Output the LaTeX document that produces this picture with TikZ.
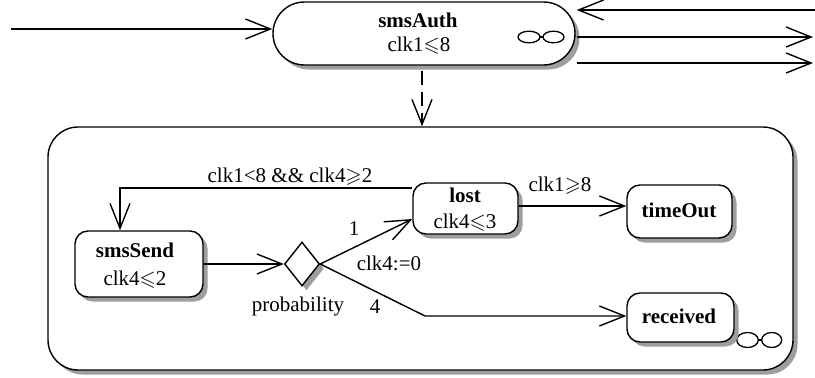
\documentclass[tikz,border=0pt]{standalone}
\usepackage{fontspec}
\setmainfont{Liberation Serif}
\usepackage{amssymb}
\usetikzlibrary{arrows.meta,shapes.geometric,calc,shadows}
\begin{document}
\begin{tikzpicture}[x=1pt,y=-1pt,line width=1.4pt,
  txt/.style={font=\fontsize{21}{24}\selectfont, inner sep=0pt, anchor=base},
  btxt/.style={txt, font=\fontsize{21}{24}\selectfont\bfseries},
  arr/.style={-{Straight Barb[length=25pt,width=20pt,line width=1.4pt]}},
  shad/.style={drop shadow={shadow xshift=4.5pt,shadow yshift=-4.5pt,fill=black!38,opacity=1}},
  statebox/.style={draw, fill=white, rounded corners=13pt, shad, inner sep=0pt},
  inf/.style={line width=1.3pt}
]
\useasboundingbox (0,0) rectangle (815,378);
% container
\node[statebox, rounded corners=30pt, minimum width=745pt, minimum height=243pt] (cont) at (420.5,248.5) {};
% container infinity
\draw[inf] (747.5,340) ellipse [x radius=10.8pt, y radius=7.5pt];
\draw[inf] (771.7,340) ellipse [x radius=10pt, y radius=7.5pt];
\draw[inf] (758.3,340) -- (761.7,340);
% smsAuth
\node[statebox, rounded corners=31.5pt, minimum width=302pt, minimum height=63pt] (smsAuth) at (424,33.5) {};
\node[btxt] (tAuth) at (418,27) {smsAuth};
\node[txt] (gAuth) at (419,51) {clk1$\leqslant$8};
\draw[inf] (529,37) ellipse [x radius=11pt, y radius=5.8pt];
\draw[inf] (553.5,37) ellipse [x radius=10.5pt, y radius=5.8pt];
\draw[inf] (540,37) -- (543,37);
% states
\node[statebox, minimum width=128pt, minimum height=66pt] (smsSend) at (139,264) {};
\node[btxt] (tSend) at (135,257) {smsSend};
\node[txt] (gSend) at (135,285) {clk4$\leqslant$2};
\node[statebox, minimum width=105pt, minimum height=51pt] (lost) at (465.5,208.5) {};
\node[btxt] (tLost) at (465,202) {lost};
\node[txt] (gLost) at (465,228) {clk4$\leqslant$3};
\node[statebox, minimum width=105pt, minimum height=53pt] (timeOut) at (679.5,211.5) {};
\node[btxt] (tTime) at (679,217) {timeOut};
\node[statebox, minimum width=107pt, minimum height=49pt] (received) at (680.5,317.5) {};
\node[btxt] (tRec) at (679,323) {received};
\node[diamond, draw, fill=white, shad, minimum width=35pt, minimum height=44pt, inner sep=0pt] (dia) at (302,264) {};
% outer connectors
\coordinate (inA) at (11,29);
\coordinate (r1) at (815,10);
\coordinate (r2) at (813,37);
\coordinate (r3) at (813,63);
\draw[arr] (inA) -- (smsAuth.west |- inA);
\draw[arr] (r1) -- ($(smsAuth.east |- r1)+(1,0)$);
\draw[arr] ($(smsAuth.east |- r2)+(1,0)$) -- (r2);
\draw[arr] ($(smsAuth.east |- r3)+(1,0)$) -- (r3);
\draw[arr, dash pattern=on 14pt off 7pt] ($(smsAuth.south)+(-2,5)$) coordinate (d1) -- (d1 |- cont.north);
% inner connectors
\draw[arr] (smsSend.east) -- (dia.west);
\draw[arr] (dia.east) -- ($(lost.west)+(0,10.5)$);
\draw[arr] (dia.east) -- (425,316) -- (received.west |- 425,316);
\draw[arr] ($(lost.east)+(0,-2.5)$) coordinate (a1) -- (timeOut.west |- a1);
\draw[arr] ($(lost.west)+(0,-20.5)$) -| ($(smsSend.north)+(-19,0)$);
% labels
\node[txt] (l1) at (290,182) {clk1<8 \&\& clk4$\geqslant$2};
\node[txt] (l2) at (354,235) {1};
\node[txt] (l3) at (389,270) {clk4:=0};
\node[txt] (l4) at (298,311.5) {probability};
\node[txt] (l5) at (375,313) {4};
\node[txt] (l6) at (560,191) {clk1$\geqslant$8};
\end{tikzpicture}
\end{document}
